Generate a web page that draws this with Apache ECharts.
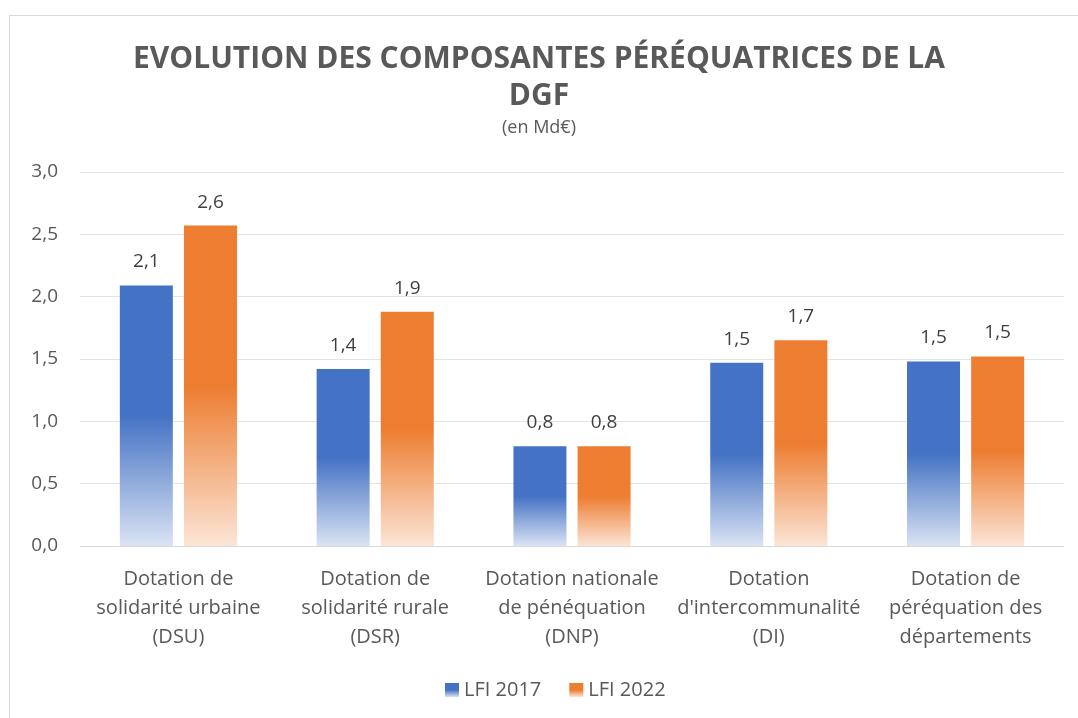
<!DOCTYPE html>
<html>
<head>
<meta charset="utf-8">
<script src="https://cdn.jsdelivr.net/npm/echarts@6/dist/echarts.min.js"></script>
<style>
  html, body { margin: 0; padding: 0; background: #fff; overflow: hidden; }
  #frame { position: absolute; left: 9px; top: 15px; width: 1100px; height: 760px; border: 1px solid #d9d9d9; }
  #chart { position: absolute; left: 0; top: 0; width: 1078px; height: 718px; }
</style>
</head>
<body>
<div id="frame"></div>
<div id="chart"></div>
<script>
const categories = [
  'Dotation de\nsolidarité urbaine\n(DSU)',
  'Dotation de\nsolidarité rurale\n(DSR)',
  'Dotation nationale\nde pénéquation\n(DNP)',
  'Dotation\nd\'intercommunalité\n(DI)',
  'Dotation de\npéréquation des\ndépartements'
];
const lfi2017 = [2.09, 1.42, 0.8, 1.47, 1.48];
const lfi2022 = [2.57, 1.88, 0.8, 1.65, 1.52];
const yTicks = [0, 0.5, 1.0, 1.5, 2.0, 2.5, 3.0];

const font = 'Open Sans';
const textColor = '#595959';

// dégradé par barre : couleur pleine en haut, estompée vers le bas
function fade(solid, light) {
  return new echarts.graphic.LinearGradient(0, 0, 0, 1, [
    { offset: 0, color: solid },
    { offset: 0.5, color: solid },
    { offset: 1, color: light }
  ]);
}

const fmt = v => (Math.round(v * 10) / 10).toFixed(1).replace('.', ',');

const chart = echarts.init(document.getElementById('chart'));
chart.setOption({
  animation: false,
  backgroundColor: 'transparent',
  title: {
    text: 'EVOLUTION DES COMPOSANTES PÉRÉQUATRICES DE LA\nDGF',
    subtext: '(en Md€)',
    left: 'center',
    top: 36,
    itemGap: 4,
    textStyle: {
      fontFamily: font,
      fontWeight: 'bold',
      fontSize: 30,
      lineHeight: 37,
      color: textColor
    },
    subtextStyle: {
      fontFamily: font,
      fontSize: 18,
      color: textColor
    }
  },
  legend: {
    bottom: 13,
    left: 440,
    itemWidth: 14,
    itemHeight: 14,
    itemGap: 28,
    textStyle: { fontFamily: font, fontSize: 20, color: textColor },
    data: [
      { name: 'LFI 2017', icon: 'rect' },
      { name: 'LFI 2022', icon: 'rect' }
    ]
  },
  grid: { left: 80, right: 14, top: 172, bottom: 172 },
  xAxis: {
    type: 'category',
    data: categories,
    axisLine: { lineStyle: { color: '#d9d9d9', width: 1 } },
    axisTick: { show: false },
    axisLabel: {
      interval: 0,
      margin: 19,
      fontFamily: font,
      fontSize: 20,
      lineHeight: 29,
      color: textColor
    }
  },
  yAxis: {
    type: 'value',
    min: yTicks[0],
    max: yTicks[yTicks.length - 1],
    interval: 0.5,
    axisLine: { show: false },
    axisTick: { show: false },
    splitLine: { lineStyle: { color: '#e3e3e3', width: 1 } },
    axisLabel: {
      margin: 22,
      fontFamily: font,
      fontSize: 19,
      color: textColor,
      formatter: fmt
    }
  },
  series: [
    {
      name: 'LFI 2017',
      type: 'bar',
      data: lfi2017,
      barWidth: 53,
      barGap: '21%',
      itemStyle: { color: fade('#4472c4', '#dae3f3') },
      label: {
        show: true,
        position: 'top',
        distance: 14,
        fontFamily: font,
        fontSize: 19,
        color: '#404040',
        formatter: p => fmt(p.value)
      }
    },
    {
      name: 'LFI 2022',
      type: 'bar',
      data: lfi2022,
      barWidth: 53,
      itemStyle: { color: fade('#ed7d31', '#fbe5d6') },
      label: {
        show: true,
        position: 'top',
        distance: 14,
        fontFamily: font,
        fontSize: 19,
        color: '#404040',
        formatter: p => fmt(p.value)
      }
    }
  ]
});
</script>
</body>
</html>
